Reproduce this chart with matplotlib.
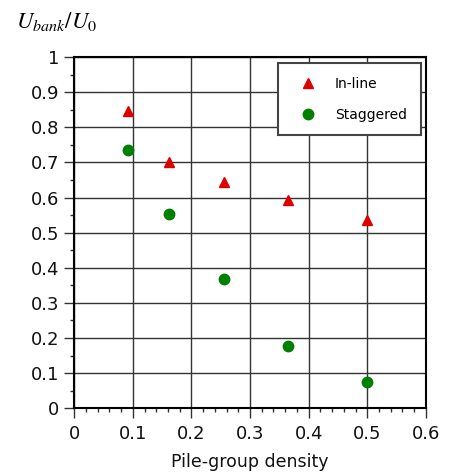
import numpy as np
import matplotlib
matplotlib.use("Agg")
import matplotlib.pyplot as plt
from matplotlib.ticker import MultipleLocator

# data
density = [0.092, 0.162, 0.256, 0.365, 0.50]
inline = [0.845, 0.700, 0.645, 0.592, 0.536]
staggered = [0.734, 0.554, 0.368, 0.177, 0.075]

x_ticks = [0, 0.1, 0.2, 0.3, 0.4, 0.5, 0.6]
x_tick_labels = ["0", "0.1", "0.2", "0.3", "0.4", "0.5", "0.6"]
y_ticks = [0, 0.1, 0.2, 0.3, 0.4, 0.5, 0.6, 0.7, 0.8, 0.9, 1.0]
y_tick_labels = ["0", "0.1", "0.2", "0.3", "0.4", "0.5", "0.6", "0.7", "0.8", "0.9", "1"]

plt.rcParams['font.family'] = ['DejaVu Sans']
plt.rcParams['mathtext.fontset'] = 'stix'

fig = plt.figure(figsize=(4.53, 4.73), dpi=100)
ax = fig.add_axes([0.164, 0.1368, 0.776, 0.7427])

ax.plot(density, inline, linestyle='none', marker='^', markersize=7.5,
        color='#dd0000', label='In-line', zorder=3)
ax.plot(density, staggered, linestyle='none', marker='o', markersize=7.5,
        color='#008000', label='Staggered', zorder=3)

ax.set_xlim(0, 0.6)
ax.set_ylim(0, 1)
ax.set_xticks(x_ticks)
ax.set_xticklabels(x_tick_labels)
ax.set_yticks(y_ticks)
ax.set_yticklabels(y_tick_labels)
ax.xaxis.set_minor_locator(MultipleLocator(0.02))
ax.yaxis.set_minor_locator(MultipleLocator(0.05))

ax.tick_params(which='major', direction='out', length=7, width=1.0,
               labelsize=13, pad=4, color='#333333', labelcolor='#111111')
ax.tick_params(axis='x', which='major', pad=5)
ax.tick_params(which='minor', direction='out', length=3, width=1.0, color='#333333')
ax.grid(True, which='major', color='#333333', linewidth=1.0)
ax.set_axisbelow(True)
for sp in ax.spines.values():
    sp.set_linewidth(1.5)
    sp.set_color('black')

ax.set_xlabel('Pile-group density', fontsize=12.5, labelpad=7, color='#111111')
fig.text(0.036, 0.978, r'$U_{bank}/U_0$', fontsize=16.5, ha='left', va='top')

leg = ax.legend(loc='upper right', bbox_to_anchor=(0.986, 0.983), borderaxespad=0,
                fontsize=10, frameon=True, fancybox=False, labelspacing=1.2,
                handletextpad=0.8, borderpad=1.0, handlelength=2.3,
                framealpha=1, edgecolor='#444444')
leg.get_frame().set_linewidth(1.5)
leg.get_frame().set_facecolor('white')

fig.savefig('out.png', dpi=100)
